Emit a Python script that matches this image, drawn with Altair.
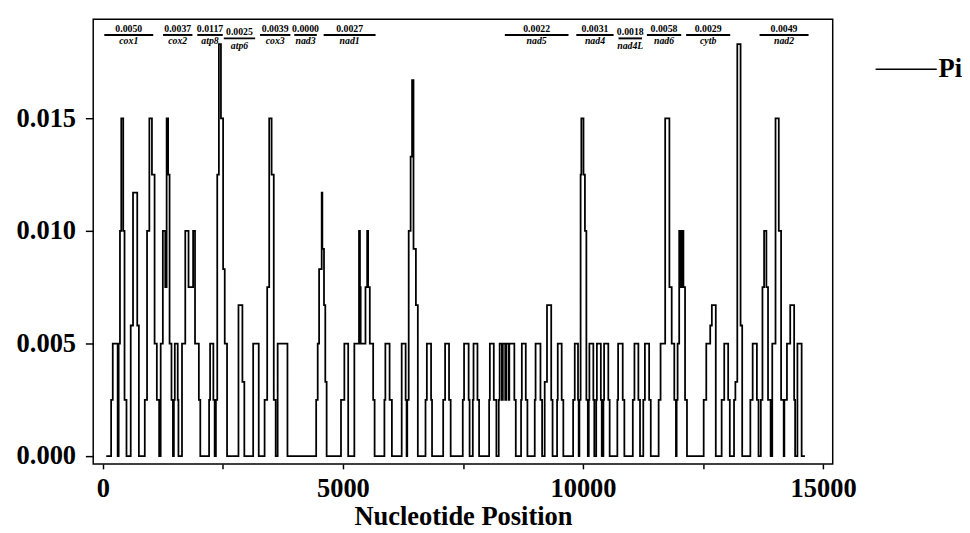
import altair as alt
import pandas as pd

# ---- sliding-window nucleotide diversity (Pi) ----
position = [71, 173, 207, 309, 330, 357, 384, 425, 452, 493, 581, 629, 717, 751,
            874, 921, 969, 1023, 1078, 1125, 1173, 1205, 1250, 1300, 1329, 1360, 1390,
            1430, 1460, 1480, 1499, 1560, 1575, 1649, 1717, 1785, 1880, 1920, 2000, 2030,
            2213, 2234, 2302, 2329, 2355, 2383, 2417, 2460, 2505, 2539, 2587,
            2825, 2907, 2947, 3131, 3247, 3369, 3423, 3465, 3515, 3560, 3600, 3641, 3845,
            4443, 4475, 4504, 4558, 4572, 4606, 4633, 4661, 4960, 5030, 5110,
            5238, 5335, 5355, 5370, 5470, 5505, 5525, 5560, 5630, 5660,
            5864, 5884, 5972, 6020, 6224, 6306, 6326, 6340, 6370, 6410, 6440, 6470, 6520, 6560,
            6720, 6748, 6836, 6856, 7088, 7128, 7210, 7244, 7496, 7523, 7618, 7638,
            7705, 7720, 7802, 7836, 8045, 8060, 8142, 8196, 8245, 8264, 8310, 8330, 8380,
            8400, 8450, 8465, 8570, 8600, 8710, 8726, 8808, 8842, 8995, 9012, 9114, 9148,
            9202, 9250, 9338, 9366, 9460, 9474, 9556, 9590, 9794, 9828, 9896, 9910,
            9925, 9950, 9965, 10010, 10040, 10070, 10100, 10120, 10133, 10215, 10235,
            10275, 10289, 10371, 10390, 10425, 10439, 10527, 10555, 10715, 10731, 10827, 10861,
            11037, 11071, 11153, 11187, 11255, 11289, 11377, 11411,
            11575, 11615, 11711, 11799, 11847, 11901, 11935, 11950, 11970, 12003, 12040,
            12050, 12070, 12080, 12091, 12125, 12165, 12513, 12567, 12649, 12683, 12765,
            12887, 12941, 13023, 13057, 13145, 13173, 13213, 13281, 13315,
            13485, 13533, 13621, 13655, 13703, 13737, 13771, 13819, 13853, 13907,
            13941, 14009, 14077, 14125, 14179, 14193, 14247, 14315, 14397, 14417,
            14465, 14553, 14621]
pi = [0, 0.0025, 0.005, 0, 0.005, 0.01, 0.015, 0.01, 0.0025, 0, 0.0058, 0.0117, 0.0058, 0,
      0.0025, 0.01, 0.015, 0.0125, 0.005, 0.0025, 0, 0.005, 0.01, 0.0075, 0.015, 0.0125, 0.005,
      0.0025, 0, 0.0025, 0.005, 0.0025, 0, 0.005, 0.01, 0.0075, 0.01, 0.005, 0.0025, 0,
      0.0025, 0.005, 0.0025, 0, 0.0025, 0.0125, 0.0183, 0.015, 0.0083, 0.005, 0,
      0.0067, 0.0033, 0, 0.005, 0, 0.0025, 0.0075, 0.015, 0.0125, 0.0025, 0, 0.005, 0,
      0.0025, 0.005, 0.0083, 0.0117, 0.0092, 0.0067, 0.0033, 0, 0.0025, 0.005, 0,
      0.005, 0.01, 0.0075, 0.005, 0.0075, 0.01, 0.0075, 0.005, 0.0025, 0,
      0.0025, 0.005, 0.0025, 0, 0.005, 0.0025, 0, 0.0025, 0.01, 0.0133, 0.0167, 0.0092, 0.0067, 0,
      0.0025, 0.005, 0.0025, 0, 0.0025, 0.005, 0.0025, 0, 0.0025, 0.005, 0.0025, 0,
      0.0025, 0.005, 0.0025, 0, 0.0025, 0.005, 0.0025, 0, 0.0025, 0.005, 0.0025, 0.005, 0.0025,
      0.005, 0.0025, 0.005, 0.0025, 0, 0.0025, 0.005, 0.0025, 0, 0.0025, 0.005, 0.0025, 0,
      0.0033, 0.0067, 0.0025, 0, 0.0025, 0.005, 0.0025, 0, 0.0025, 0.005, 0.0025, 0,
      0.0025, 0.0125, 0.015, 0.0125, 0.01, 0.0025, 0, 0.0025, 0.005, 0.0025, 0,
      0.0025, 0.005, 0.0025, 0, 0.0025, 0.005, 0.0025, 0, 0.0025, 0.005, 0.0025, 0,
      0.0025, 0.005, 0.0025, 0, 0.0025, 0.005, 0.0025, 0,
      0.0025, 0.005, 0.015, 0.0075, 0.005, 0.0025, 0, 0.0025, 0.005, 0.01, 0.0075,
      0.01, 0.0075, 0.01, 0.0075, 0.0025, 0, 0.0025, 0.005, 0.0058, 0.0067, 0,
      0.0025, 0.005, 0.0025, 0, 0.0025, 0.0033, 0.0183, 0.0058, 0,
      0.0025, 0.005, 0.0025, 0, 0.0025, 0.0075, 0.01, 0.0075, 0.0025, 0,
      0.005, 0.015, 0.01, 0.0025, 0, 0.0025, 0.005, 0.0067, 0.0025, 0,
      0.005, 0, 0]

# ---- genes annotated along the top ----
gene = ["cox1", "cox2", "atp8", "atp6", "cox3", "nad3", "nad1",
        "nad5", "nad4", "nad4L", "nad6", "cytb", "nad2"]
gene_start = [31, 1254, 1968, 2519, 3274, 3987, 4599, 8372, 9861, 10739, 11331, 12147, 13677]
gene_end = [1050, 1866, 2498, 3172, 3906, 4457, 5680, 9698, 10637, 11229, 12045, 13065, 14697]
gene_pi = ["0.0050", "0.0037", "0.0117", "0.0025", "0.0039", "0.0000", "0.0027",
           "0.0022", "0.0031", "0.0018", "0.0058", "0.0029", "0.0049"]
gene_row = [0, 0, 0, 1, 0, 0, 0, 0, 0, 1, 0, 0, 0]

SERIF = "Liberation Serif"

df = pd.DataFrame({"pos": position, "pi": pi, "series": "Pi"})
genes = pd.DataFrame({"gene": gene, "start": gene_start, "end": gene_end,
                      "val": gene_pi, "row": gene_row})

xscale = alt.Scale(domain=[-200, 15200], nice=False, zero=False)
yscale = alt.Scale(domain=[-0.00035, 0.0194], nice=False, zero=False)

line = alt.Chart(df).mark_line(interpolate="step-after", strokeWidth=1.8).encode(
    x=alt.X("pos:Q", scale=xscale, title="Nucleotide Position",
            axis=alt.Axis(values=list(range(0, 15001, 2500)),
                          labelExpr="datum.value % 5000 == 0 ? format(datum.value, 'd') : ''",
                          tickSize=5, labelPadding=7, titlePadding=3)),
    y=alt.Y("pi:Q", scale=yscale, title=None,
            axis=alt.Axis(values=[0, 0.005, 0.01, 0.015], format=".3f",
                          tickSize=8, labelPadding=10)),
    color=alt.Color("series:N", scale=alt.Scale(domain=["Pi"], range=["black"]),
                    legend=alt.Legend(title=None, orient="none", legendX=798, legendY=19,
                                      symbolType="stroke", symbolSize=3900,
                                      symbolStrokeWidth=1.5, labelFont=SERIF,
                                      labelFontSize=27, labelFontWeight="bold",
                                      labelColor="black", labelOffset=1, padding=0)),
)

base = alt.Chart(genes).transform_calculate(mid="(datum.start + datum.end) / 2")

def gene_layers(row, y_bar, y_val, y_name):
    b = base.transform_filter(f"datum.row == {row}")
    bar = b.mark_rule(strokeWidth=2, color="black").encode(
        x=alt.X("start:Q", scale=xscale), x2="end:Q", y=alt.value(y_bar))
    val = b.mark_text(font=SERIF, fontSize=10, fontWeight="bold", color="black",
                      baseline="middle").encode(
        x=alt.X("mid:Q", scale=xscale), y=alt.value(y_val), text="val:N")
    name = b.mark_text(font=SERIF, fontSize=10, fontWeight="bold", fontStyle="italic",
                       color="black", baseline="middle").encode(
        x=alt.X("mid:Q", scale=xscale), y=alt.value(y_name), text="gene:N")
    return [bar, val, name]

layers = [line] + gene_layers(0, 16, 10, 22) + gene_layers(1, 19.5, 13.5, 27)

chart = alt.layer(*layers).properties(
    width=755, height=454,
    padding={"left": 8, "top": 6, "right": 0, "bottom": 0},
    background="white",
).configure_view(stroke="black", strokeWidth=1.5).configure_axis(
    domain=False, grid=False, tickColor="black", tickWidth=1.5,
    labelFont=SERIF, labelFontSize=27, labelFontWeight="bold", labelColor="black",
    titleFont=SERIF, titleFontSize=27, titleFontWeight="bold", titleColor="black",
)

chart.save("out.html", embed_options={"renderer": "svg", "actions": False})
